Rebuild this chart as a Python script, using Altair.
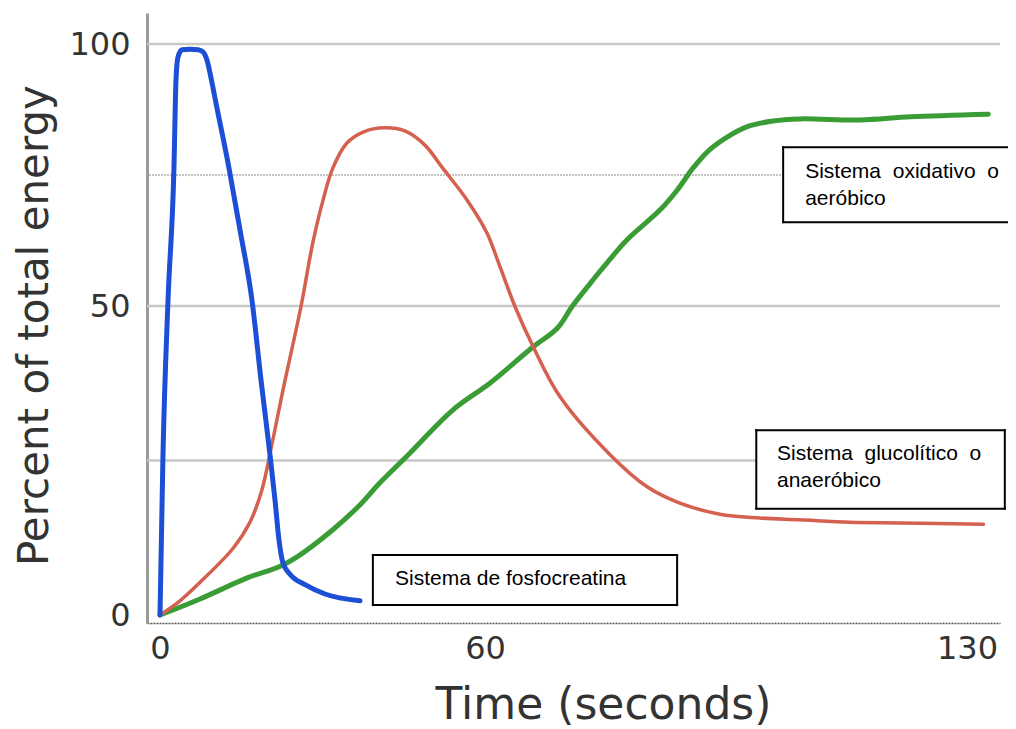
import altair as alt
import pandas as pd

# ---- data (time in seconds, percent of total energy) ----
blue_t = [0, 0.55, 1.48, 2.58, 2.95, 3.32, 4.06, 5.54, 7.02, 7.94, 8.68, 9.42, 10.34,
          12.74, 14.77, 16.98, 18.65, 20.31, 21.23, 21.97, 22.71, 24.0, 26.77, 30.46, 36.92]
blue_v = [0, 25.9, 51.1, 76.5, 93.1, 97.5, 98.9, 99.0, 98.9, 98.5, 96.9, 93.5, 88.7,
          76.3, 64.5, 51.1, 38.0, 25.9, 18.6, 12.1, 8.4, 6.6, 4.9, 3.4, 2.3]

red_t = [0, 3.7, 7.4, 13.5, 16.6, 18.8, 20.7, 22.7, 26.0, 28.2, 30.1, 31.9, 34.5, 37.5,
         41.5, 45.2, 48.9, 52.2, 56.7, 60.3, 62.2, 64.4, 67.0, 70.9, 78.2, 83.6,
         88.3, 94.1, 99.9, 105.7, 113.0, 120.3, 132.4]
red_v = [0, 2.3, 5.3, 10.8, 15.0, 20.2, 27.8, 36.4, 49.8, 62.0, 70.2, 76.3, 81.1, 83.2,
         84.0, 83.4, 80.7, 76.3, 70.2, 63.9, 57.4, 49.8, 43.4, 35.3, 25.9, 20.7,
         18.1, 16.3, 15.7, 15.4, 15.0, 14.9, 14.7]

green_t = [0, 7.4, 16.1, 22.2, 25.8, 31.9, 36.9, 40.6, 45.8, 54.1, 60.7, 67.0, 70.5,
           72.7, 75.7, 77.2, 80.6, 85.4, 87.9, 90.2, 92.6, 95.1, 98.0, 101.8, 105.7,
           114.5, 121.8, 133.1]
green_v = [0, 2.6, 6.0, 7.9, 9.7, 13.8, 17.8, 21.4, 25.9, 33.2, 37.5, 43.4, 46.4,
           50.0, 55.0, 57.4, 62.6, 68.3, 72.1, 76.3, 79.8, 82.2, 84.2, 85.3, 85.7,
           85.5, 86.1, 86.6]

x_ticks = [0, 60, 130]
y_ticks = [0, 50, 100]
grid_solid = [25, 50, 100]
grid_dotted = [75]

box_labels = ["Sistema\u00a0\u00a0oxidativo\u00a0\u00a0o\naeróbico",
              "Sistema\u00a0\u00a0glucolítico\u00a0\u00a0o\nanaeróbico",
              "Sistema de fosfocreatina"]
box_t0 = [103.3, 99.4, 39.3]
box_t1 = [160.0, 135.5, 87.9]
box_v0 = [66.0, 17.2, 1.6]
box_v1 = [80.3, 29.9, 9.7]
box_open_right = [True, False, False]   # the first box runs off the right edge
text_t = [106.5, 102.4, 43.4]
text_v = [74.4, 25.1, 4.9]

# ---- scales (the reference's axis is drawn with uneven spacing between labels) ----
xscale = alt.Scale(domain=[-2.4, 0, 60, 130, 134.8], range=[0, 13, 338, 820, 853],
                   nice=False, zero=False)
yscale = alt.Scale(domain=[-1.3, 0, 50, 100, 105.9], range=[610, 602, 293, 31, 0],
                   nice=False, zero=False)

FONT = "DejaVu Sans"
TXT = "#333333"

xaxis = alt.Axis(values=x_ticks, grid=False, ticks=False, domainColor="#555555",
                 domainWidth=1.5, domainDash=[2, 1], labelFont=FONT, labelFontSize=32,
                 labelColor=TXT, labelPadding=10, labelFlush=False, labelOverlap=False,
                 title="Time (seconds)", titleFont=FONT, titleFontSize=44,
                 titleFontWeight="normal", titleColor=TXT, titleX=456, titleY=95,
                 titleAlign="center", titleBaseline="alphabetic")
yaxis = alt.Axis(values=y_ticks, grid=False, ticks=False, domainColor="#9a9a9a",
                 domainWidth=3, labelFont=FONT, labelFontSize=32, labelColor=TXT,
                 labelPadding=17, labelFlush=False, labelOverlap=False,
                 title="Percent of total energy", titleFont=FONT, titleFontSize=42,
                 titleFontWeight="normal", titleColor=TXT, titleX=-100, titleY=312,
                 titleAngle=-90, titleAlign="center", titleBaseline="alphabetic")

def series(t, v):
    return pd.DataFrame({"t": t, "v": v})

grid_s = alt.Chart(pd.DataFrame({"v": grid_solid})).mark_rule(
    color="#c8c8c8", strokeWidth=2.5
).encode(y=alt.Y("v:Q", scale=yscale, axis=yaxis))

grid_d = alt.Chart(pd.DataFrame({"v": grid_dotted})).mark_rule(
    color="#8a8a8a", strokeWidth=1, strokeDash=[2, 1]
).encode(y=alt.Y("v:Q", scale=yscale))

def line(df, color, width, interp):
    return alt.Chart(df).mark_line(
        color=color, strokeWidth=width, interpolate=interp,
        strokeCap="round", strokeJoin="round"
    ).encode(
        x=alt.X("t:Q", scale=xscale, axis=xaxis),
        y=alt.Y("v:Q", scale=yscale, axis=yaxis),
        order="t:Q",
    )

green = line(series(green_t, green_v), "#3a9c34", 5, "catmull-rom")
red = line(series(red_t, red_v), "#d5604f", 3.5, "catmull-rom")
blue = line(series(blue_t, blue_v), "#1c4fd6", 5, "monotone")

# box fills
boxes_df = pd.DataFrame({"t0": box_t0, "t1": box_t1, "v0": box_v0, "v1": box_v1})
fills = alt.Chart(boxes_df).mark_rect(fill="white", stroke=None).encode(
    x=alt.X("t0:Q", scale=xscale), x2="t1:Q",
    y=alt.Y("v0:Q", scale=yscale), y2="v1:Q",
)

# box borders (top, bottom, left, and right unless the box runs off the edge)
segs = []
for t0, t1, v0, v1, open_r in zip(box_t0, box_t1, box_v0, box_v1, box_open_right):
    segs.append({"a": t0, "b": t1, "c": v1, "d": v1})
    segs.append({"a": t0, "b": t1, "c": v0, "d": v0})
    segs.append({"a": t0, "b": t0, "c": v0, "d": v1})
    if not open_r:
        segs.append({"a": t1, "b": t1, "c": v0, "d": v1})
borders = alt.Chart(pd.DataFrame(segs)).mark_rule(
    color="black", strokeWidth=2, strokeCap="square"
).encode(
    x=alt.X("a:Q", scale=xscale), x2="b:Q",
    y=alt.Y("c:Q", scale=yscale), y2="d:Q",
)

texts_df = pd.DataFrame({"t": text_t, "v": text_v, "label": box_labels})
texts = alt.Chart(texts_df).mark_text(
    align="left", baseline="alphabetic", font="Liberation Sans", fontSize=21,
    lineHeight=27, lineBreak="\n", color="black"
).encode(
    x=alt.X("t:Q", scale=xscale), y=alt.Y("v:Q", scale=yscale), text="label:N"
)

chart = alt.layer(grid_s, grid_d, green, red, blue, fills, borders, texts).properties(
    width=853, height=610,
    autosize=alt.AutoSizeParams(type="none"),
    padding={"left": 139, "top": 5, "right": 8, "bottom": 104},
    background="white",
).configure_view(stroke=None)

chart.save("out.html", embed_options={"renderer": "svg", "actions": False})
